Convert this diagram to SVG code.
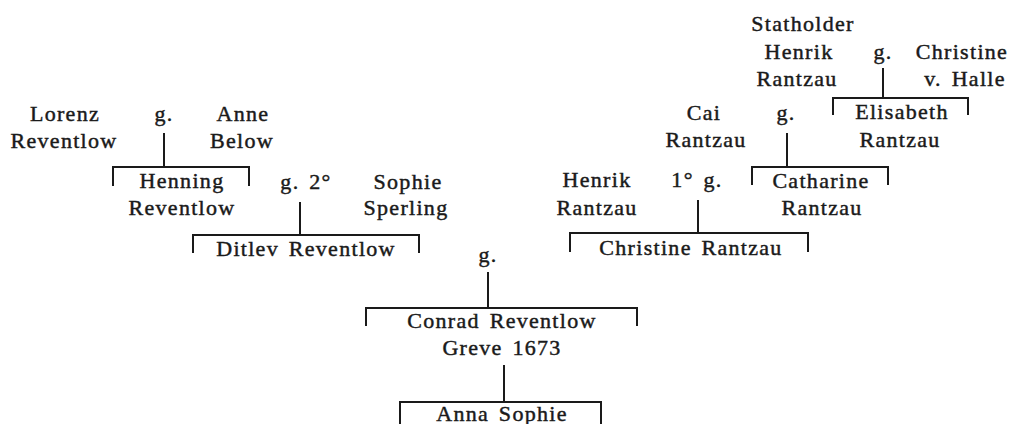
<svg xmlns="http://www.w3.org/2000/svg" width="1016" height="424" viewBox="0 0 1016 424">
<style>
.t text{font-size:22px;fill:#1a1a1a;text-anchor:middle;letter-spacing:1.3px;word-spacing:3px;stroke:#1a1a1a;stroke-width:0.45px}
.c{fill:none;stroke:#1a1a1a;stroke-width:2}
</style>
<rect width="1016" height="424" fill="#fff"/>
<g id="connectors">
<path class="c" d="M164 133V167M113 186V167H249V186"/>
<path class="c" d="M300 202V235M193 253V235H419V253"/>
<path class="c" d="M488 272V308M366 326V308H637V326"/>
<path class="c" d="M504 365V402M400 424V402H601V424"/>
<path class="c" d="M883 68V98M833 115V98H968V115"/>
<path class="c" d="M787 133V167M752 185V167H888V185"/>
<path class="c" d="M698 200V233M570 252V233H808V252"/>
</g>
<g class="t" font-family="Liberation Serif, Times New Roman, serif">
<g id="lorenz-reventlow"><text x="65" y="121">Lorenz</text><text x="64" y="148">Reventlow</text></g>
<g id="marriage-lorenz"><text x="164" y="121">g.</text></g>
<g id="anne-below"><text x="243" y="121">Anne</text><text x="242" y="148">Below</text></g>
<g id="henning-reventlow"><text x="182" y="188">Henning</text><text x="182" y="215">Reventlow</text></g>
<g id="marriage-henning"><text x="306" y="189">g. 2°</text></g>
<g id="sophie-sperling"><text x="408" y="189">Sophie</text><text x="406" y="215">Sperling</text></g>
<g id="ditlev-reventlow"><text x="306" y="256">Ditlev Reventlow</text></g>
<g id="statholder-henrik-rantzau"><text x="803" y="31">Statholder</text><text x="799" y="59">Henrik</text><text x="797" y="86">Rantzau</text></g>
<g id="marriage-statholder"><text x="883" y="59">g.</text></g>
<g id="christine-halle"><text x="962" y="59">Christine</text><text x="965" y="86">v. Halle</text></g>
<g id="elisabeth-rantzau"><text x="902" y="119">Elisabeth</text><text x="900" y="147">Rantzau</text></g>
<g id="cai-rantzau"><text x="704" y="120">Cai</text><text x="706" y="147">Rantzau</text></g>
<g id="marriage-cai"><text x="786" y="120">g.</text></g>
<g id="catharine-rantzau"><text x="821" y="188">Catharine</text><text x="822" y="215">Rantzau</text></g>
<g id="henrik-rantzau"><text x="597" y="187">Henrik</text><text x="597" y="215">Rantzau</text></g>
<g id="marriage-henrik"><text x="697" y="187">1° g.</text></g>
<g id="christine-rantzau"><text x="691" y="255">Christine Rantzau</text></g>
<g id="marriage-main"><text x="488" y="262">g.</text></g>
<g id="conrad-reventlow"><text x="502" y="328">Conrad Reventlow</text><text x="502" y="355">Greve 1673</text></g>
<g id="anna-sophie"><text x="502" y="421">Anna Sophie</text></g>
</g>
</svg>
